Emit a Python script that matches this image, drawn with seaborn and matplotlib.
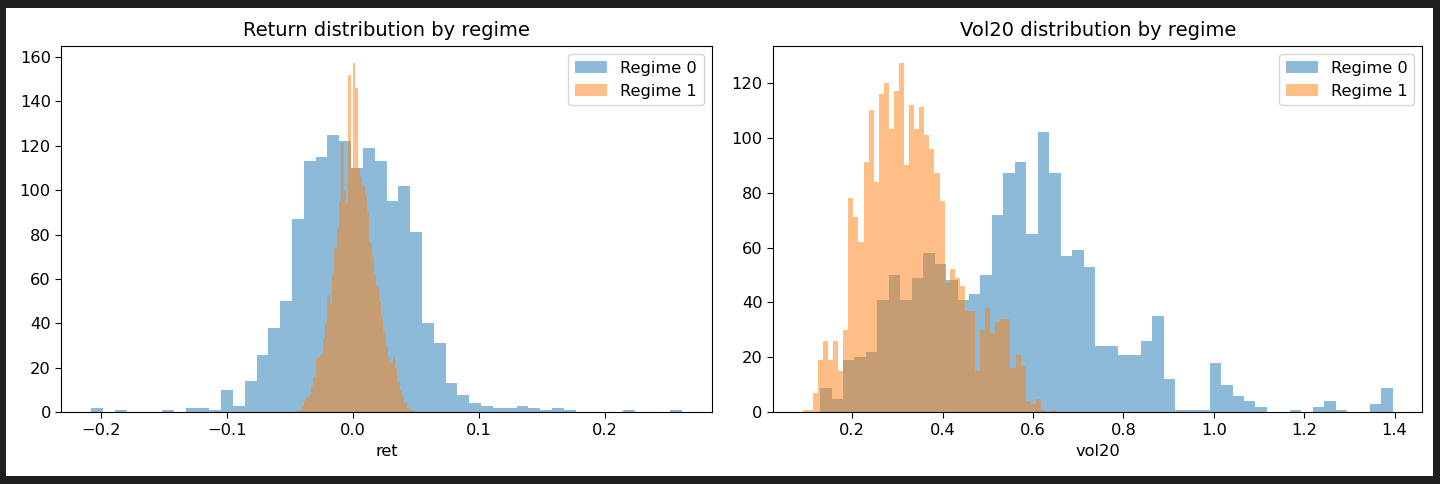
import numpy as np
import pandas as pd
import matplotlib
matplotlib.use('Agg')
import matplotlib.pyplot as plt
import seaborn as sns
from matplotlib.patches import Rectangle

# histogram counts (50 bins per series)
ret_regime0 = [2, 0, 1, 0, 0, 0, 1, 0, 2, 2,
               1, 10, 3, 14, 26, 38, 50, 87, 113, 115,
               125, 122, 110, 119, 113, 95, 102, 81, 40, 31,
               13, 8, 4, 3, 2, 2, 3, 2, 1, 2,
               1, 0, 0, 0, 0, 1, 0, 0, 0, 1]
ret_regime1 = [1, 1, 3, 5, 7, 8, 12, 16, 24, 25,
               26, 33, 40, 53, 49, 62, 74, 83, 95, 121,
               100, 94, 152, 110, 157, 146, 110, 106, 102, 98,
               90, 76, 70, 62, 57, 50, 43, 36, 30, 25,
               22, 25, 20, 14, 10, 7, 4, 2, 1, 1]
vol_regime0 = [9, 5, 19, 20, 22, 41, 50, 41, 49, 58,
               54, 48, 41, 43, 50, 72, 87, 91, 65, 102,
               87, 57, 59, 53, 24, 24, 21, 21, 26, 35,
               12, 1, 1, 1, 18, 10, 6, 4, 2, 0,
               0, 1, 0, 2, 4, 1, 0, 0, 3, 9]
vol_regime1 = [1, 1, 7, 19, 26, 19, 26, 15, 30, 78,
               71, 62, 91, 110, 84, 116, 120, 103, 117, 127,
               90, 112, 103, 111, 101, 96, 87, 77, 47, 52,
               49, 46, 37, 37, 15, 30, 38, 29, 33, 34,
               34, 16, 21, 17, 4, 3, 5, 1, 0, 1]

# data range (min, max) of each series
ret_range0 = (-0.2079, 0.2611)
ret_range1 = (-0.0445, 0.0480)
vol_range0 = (0.129, 1.3964)
vol_range1 = (0.0907, 0.651)

labels = ['Regime 0', 'Regime 1']

fig = plt.figure(figsize=(14.4, 4.84), dpi=100, facecolor='#1e1e1e')
fig.add_artist(Rectangle((0.0042, 0.0165), 0.991, 0.967, transform=fig.transFigure,
                         facecolor='white', edgecolor='none', zorder=-10))

ax1 = fig.add_axes([0.0427, 0.148, 0.4515, 0.757])
ax2 = fig.add_axes([0.537, 0.148, 0.4508, 0.757])


def draw(ax, counts, rng, color, label):
    n = len(counts)
    width = (rng[1] - rng[0]) / n
    df = pd.DataFrame({
        'x': rng[0] + width * (np.arange(n) + 0.5),
        'w': np.asarray(counts, dtype=float),
    })
    sns.histplot(data=df, x='x', weights='w', bins=n, binrange=rng, color=color,
                 alpha=0.5, linewidth=0, label=label, ax=ax)


draw(ax1, ret_regime0, ret_range0, '#1f77b4', labels[0])
draw(ax1, ret_regime1, ret_range1, '#ff7f0e', labels[1])
draw(ax2, vol_regime0, vol_range0, '#1f77b4', labels[0])
draw(ax2, vol_regime1, vol_range1, '#ff7f0e', labels[1])

for ax, title, xlab in [(ax1, 'Return distribution by regime', 'ret'),
                        (ax2, 'Vol20 distribution by regime', 'vol20')]:
    ax.set_title(title, fontsize=14.0, pad=7)
    ax.set_xlabel(xlab, fontsize=11.7)
    ax.set_ylabel('')
    ax.tick_params(labelsize=11.7, length=4.2)
    ax.legend(loc='upper right', fontsize=11.7)

ax1.set_xticks([-0.2, -0.1, 0.0, 0.1, 0.2])
ax2.set_xticks([0.2, 0.4, 0.6, 0.8, 1.0, 1.2, 1.4])

fig.savefig('out.png', dpi=100, facecolor=fig.get_facecolor())
